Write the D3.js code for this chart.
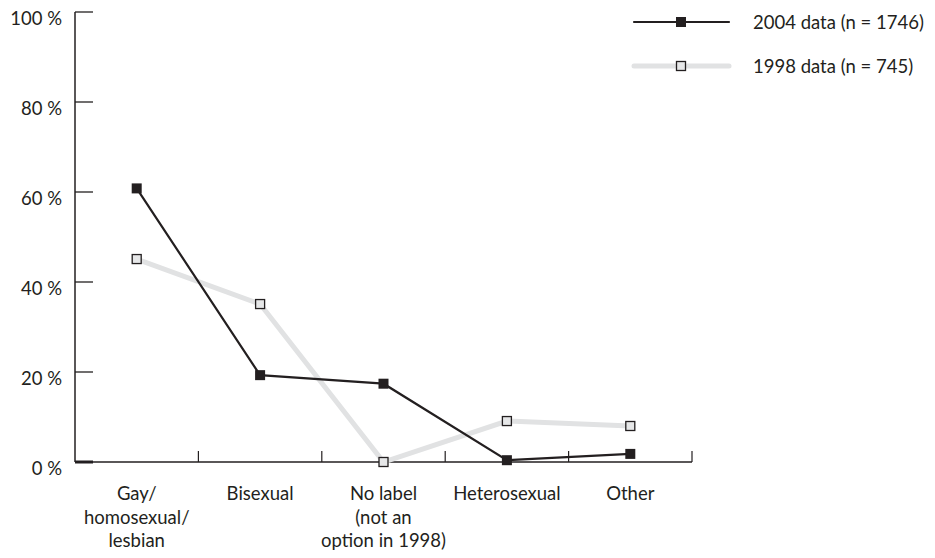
<!DOCTYPE html>
<html><head><meta charset="utf-8">
<script src="https://cdn.jsdelivr.net/npm/d3@7"></script>
<style>body{margin:0;background:#fff}text{font-family:Lato,sans-serif;fill:#231f20}</style>
</head><body><svg id="c" width="935" height="558"></svg>
<script>
const categories = [["Gay/","homosexual/","lesbian"],["Bisexual"],["No label","(not an","option in 1998)"],["Heterosexual"],["Other"]];
const values2004 = [60.8, 19.3, 17.4, 0.4, 1.8];
const values1998 = [45.1, 35.1, 0.0, 9.1, 8.0];
const yTicks = [0, 20, 40, 60, 80, 100];
const legendLabels = ["2004 data (n = 1746)", "1998 data (n = 745)"];

const ink = "#231f20", light = "#e1e2e3";
const fs = 18.5;
const svg = d3.select("#c");
const x = d3.scaleBand().domain(d3.range(categories.length)).range([75, 692]);
const y = d3.scaleLinear().domain([0, 100]).range([462, 12]);

// y axis
svg.append("line").attr("x1",75).attr("x2",75).attr("y1",y(100)).attr("y2",y(0)).attr("stroke",ink).attr("stroke-width",1.5);
yTicks.forEach(t=>{
  svg.append("line").attr("x1",75).attr("x2",93).attr("y1",y(t)).attr("y2",y(t)).attr("stroke",ink).attr("stroke-width",t===0?3:1.3);
  svg.append("text").attr("x",62).attr("y",y(t)+12.5).attr("text-anchor","end").attr("font-size",fs).text(t+" %");
});
// x axis
svg.append("line").attr("x1",75).attr("x2",692).attr("y1",y(0)).attr("y2",y(0)).attr("stroke",ink).attr("stroke-width",1.5);
categories.forEach((c,i)=>{
  const xr = x(i)+x.bandwidth();
  svg.append("line").attr("x1",xr).attr("x2",xr).attr("y1",y(0)-11).attr("y2",y(0)).attr("stroke",ink).attr("stroke-width",1.2);
  const t = svg.append("text").attr("text-anchor","middle").attr("font-size",fs);
  c.forEach((l,j)=>t.append("tspan").attr("x",x(i)+x.bandwidth()/2).attr("y",500+j*23.5).text(l));
});
const cx = i => x(i)+x.bandwidth()/2;
const line = d3.line().x((d,i)=>cx(i)).y(d=>y(d));
// 1998
svg.append("path").datum(values1998).attr("d",line).attr("fill","none").attr("stroke",light).attr("stroke-width",5);
// 2004
svg.append("path").datum(values2004).attr("d",line).attr("fill","none").attr("stroke",ink).attr("stroke-width",2.2);
values1998.forEach((v,i)=>svg.append("rect").attr("x",cx(i)-4.5).attr("y",y(v)-4.5).attr("width",9).attr("height",9).attr("fill","#e6e7e8").attr("stroke",ink).attr("stroke-width",1.3));
values2004.forEach((v,i)=>svg.append("rect").attr("x",cx(i)-5).attr("y",y(v)-5).attr("width",10).attr("height",10).attr("fill",ink));

// legend
const lg = [{c:ink,w:2.2,fill:ink,s:10,y:22},{c:light,w:5,fill:"#e6e7e8",s:9,y:66}];
lg.forEach((d,i)=>{
  svg.append("line").attr("x1",634).attr("x2",729).attr("y1",d.y).attr("y2",d.y).attr("stroke",d.c).attr("stroke-width",d.w).attr("stroke-linecap","round");
  const r = svg.append("rect").attr("x",681-d.s/2).attr("y",d.y-d.s/2).attr("width",d.s).attr("height",d.s).attr("fill",d.fill);
  if(i===1) r.attr("stroke",ink).attr("stroke-width",1.3);
  svg.append("text").attr("x",753).attr("y",d.y+6.5).attr("font-size",fs).text(legendLabels[i]);
});
</script></body></html>
